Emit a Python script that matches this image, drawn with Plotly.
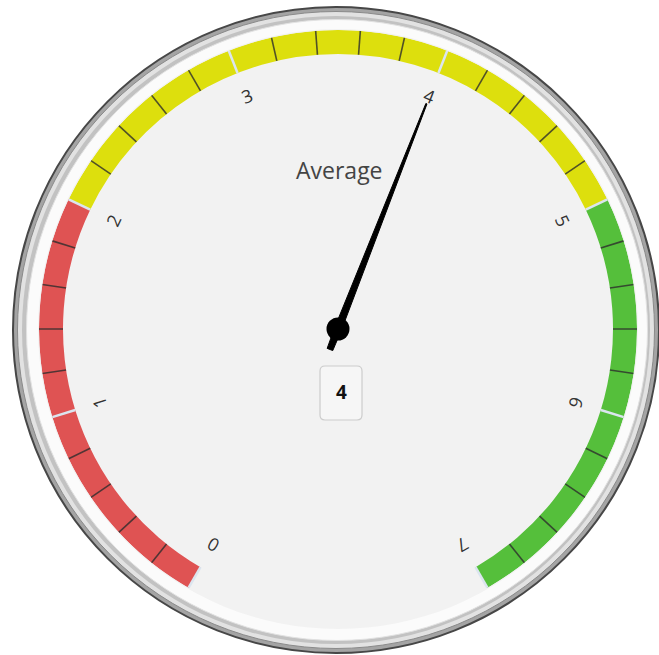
import math
import plotly.graph_objects as go

# ---------------- data ----------------
gauge_min = 0
gauge_max = 7
value = 4
title_text = "Average"
tick_values = [0, 1, 2, 3, 4, 5, 6, 7]
tick_labels = ["0", "1", "2", "3", "4", "5", "6", "7"]
minor_step = 0.2
band_from = [0, 2, 5]
band_to = [2, 5, 7]
band_colors = ["#DF5353", "#DDDF0D", "#55BF3B"]

# ---------------- geometry / style ----------------
W, H = 659, 655
CX, CY = 338, 329          # gauge centre in pixels
R_OUT, R_IN = 299, 275     # band radii in pixels
START, END = -150, 150     # angular sweep (deg, clockwise from top)
LABEL_R = 250
FONT = "Open Sans"


def ang(v):
    return START + (v - gauge_min) / (gauge_max - gauge_min) * (END - START)


def pxx(x):
    return x / W


def pyy(y):
    return 1 - y / H


fig = go.Figure()

# bands
fig.add_trace(go.Barpolar(
    r=[R_OUT - R_IN] * len(band_from),
    base=[R_IN] * len(band_from),
    theta=[ang((a + b) / 2) for a, b in zip(band_from, band_to)],
    width=[ang(b) - ang(a) for a, b in zip(band_from, band_to)],
    marker=dict(color=band_colors, line=dict(width=0)),
    hoverinfo="skip", showlegend=False,
))

# minor ticks
n_minor = int(round((gauge_max - gauge_min) / minor_step))
minor_vals = [gauge_min + i * minor_step for i in range(n_minor + 1)]
minor_vals = [v for v in minor_vals if all(abs(v - t) > 1e-6 for t in tick_values)]
mr, mt = [], []
for v in minor_vals:
    mr += [R_IN, R_OUT, None]
    mt += [ang(v), ang(v), None]
fig.add_trace(go.Scatterpolar(
    r=mr, theta=mt, mode="lines",
    line=dict(color="rgba(45,45,45,0.8)", width=1.6),
    hoverinfo="skip", showlegend=False, connectgaps=False,
))

# major ticks
Mr, Mt = [], []
for v in tick_values:
    Mr += [R_IN, R_OUT, None]
    Mt += [ang(v), ang(v), None]
fig.add_trace(go.Scatterpolar(
    r=Mr, theta=Mt, mode="lines",
    line=dict(color="#dbe5ef", width=2.5),
    hoverinfo="skip", showlegend=False, connectgaps=False,
))

# needle
tv = ang(value)
needle_local = [(242, 0.6), (0, 3.6), (-22, 3.0), (-22, -3.0), (0, -3.6), (242, -0.6), (242, 0.6)]
nr = [math.hypot(a, c) for a, c in needle_local]
nt = [tv + math.degrees(math.atan2(c, a)) for a, c in needle_local]
fig.add_trace(go.Scatterpolar(
    r=nr, theta=nt, mode="lines", fill="toself",
    fillcolor="black", line=dict(color="black", width=1),
    hoverinfo="skip", showlegend=False,
))
# pivot
fig.add_trace(go.Scatterpolar(
    r=[0], theta=[0], mode="markers",
    marker=dict(color="black", size=23),
    hoverinfo="skip", showlegend=False,
))

fig.update_layout(
    width=W, height=H,
    margin=dict(l=0, r=0, t=0, b=0),
    paper_bgcolor="white",
    plot_bgcolor="rgba(0,0,0,0)",
    showlegend=False,
    polar=dict(
        domain=dict(x=[pxx(CX - R_OUT), pxx(CX + R_OUT)],
                    y=[pyy(CY + R_OUT), pyy(CY - R_OUT)]),
        bgcolor="rgba(0,0,0,0)",
        radialaxis=dict(range=[0, R_OUT], visible=False, showgrid=False),
        angularaxis=dict(rotation=90, direction="clockwise", visible=False,
                         showgrid=False, showline=False),
        barmode="overlay",
    ),
)

# bezel and face (background circles)
def circle(cx, cy, r, fill, line_color=None, lw=0):
    fig.add_shape(type="circle", xref="paper", yref="paper",
                  x0=pxx(cx - r), x1=pxx(cx + r), y0=pyy(cy + r), y1=pyy(cy - r),
                  fillcolor=fill, line=dict(color=line_color or fill, width=lw),
                  layer="below")

BX, BY = 336, 330
circle(BX, BY, 323, "#a4a4a4", "#474747", 2)
circle(BX, BY, 318.5, "#e2e2e2", "#8a8a8a", 1)
circle(BX, BY, 314, "#c2c2c2", "#c2c2c2", 0)
circle(BX + 1, BY, 310.5, "#fbfbfb", "#e2e2e2", 1)
circle(CX, CY, 300, "#f2f2f2", "#f2f2f2", 0)

# value box (rounded rectangle)
bx0, bx1, by0, by1, rr = 320, 362, 366, 420, 5
path = (f"M {pxx(bx0 + rr)},{pyy(by0)} L {pxx(bx1 - rr)},{pyy(by0)} "
        f"Q {pxx(bx1)},{pyy(by0)} {pxx(bx1)},{pyy(by0 + rr)} "
        f"L {pxx(bx1)},{pyy(by1 - rr)} Q {pxx(bx1)},{pyy(by1)} {pxx(bx1 - rr)},{pyy(by1)} "
        f"L {pxx(bx0 + rr)},{pyy(by1)} Q {pxx(bx0)},{pyy(by1)} {pxx(bx0)},{pyy(by1 - rr)} "
        f"L {pxx(bx0)},{pyy(by0 + rr)} Q {pxx(bx0)},{pyy(by0)} {pxx(bx0 + rr)},{pyy(by0)} Z")
fig.add_shape(type="path", path=path, xref="paper", yref="paper",
              fillcolor="#f6f6f6", line=dict(color="#cccccc", width=1.2), layer="above")

annotations = []
# tick labels (rotated)
for v, lab in zip(tick_values, tick_labels):
    a = ang(v)
    x = CX + LABEL_R * math.sin(math.radians(a))
    y = CY - LABEL_R * math.cos(math.radians(a))
    annotations.append(dict(x=pxx(x), y=pyy(y), xref="paper", yref="paper",
                            text=lab, showarrow=False, textangle=a,
                            font=dict(family=FONT, size=18, color="#333333"),
                            xanchor="center", yanchor="middle"))
# title
annotations.append(dict(x=pxx(339), y=pyy(170), xref="paper", yref="paper",
                        text=title_text, showarrow=False,
                        font=dict(family=FONT, size=23, color="#444444"),
                        xanchor="center", yanchor="middle"))
# value
annotations.append(dict(x=pxx((bx0 + bx1) / 2), y=pyy(392), xref="paper", yref="paper",
                        text=f"<b>{value}</b>", showarrow=False,
                        font=dict(family=FONT, size=19, color="#111111"),
                        xanchor="center", yanchor="middle"))
fig.update_layout(annotations=annotations)

fig.write_html(
    "out.html",
    config={"displayModeBar": False},
    post_script="document.body.style.margin='0px';document.body.style.overflow='hidden';",
)
